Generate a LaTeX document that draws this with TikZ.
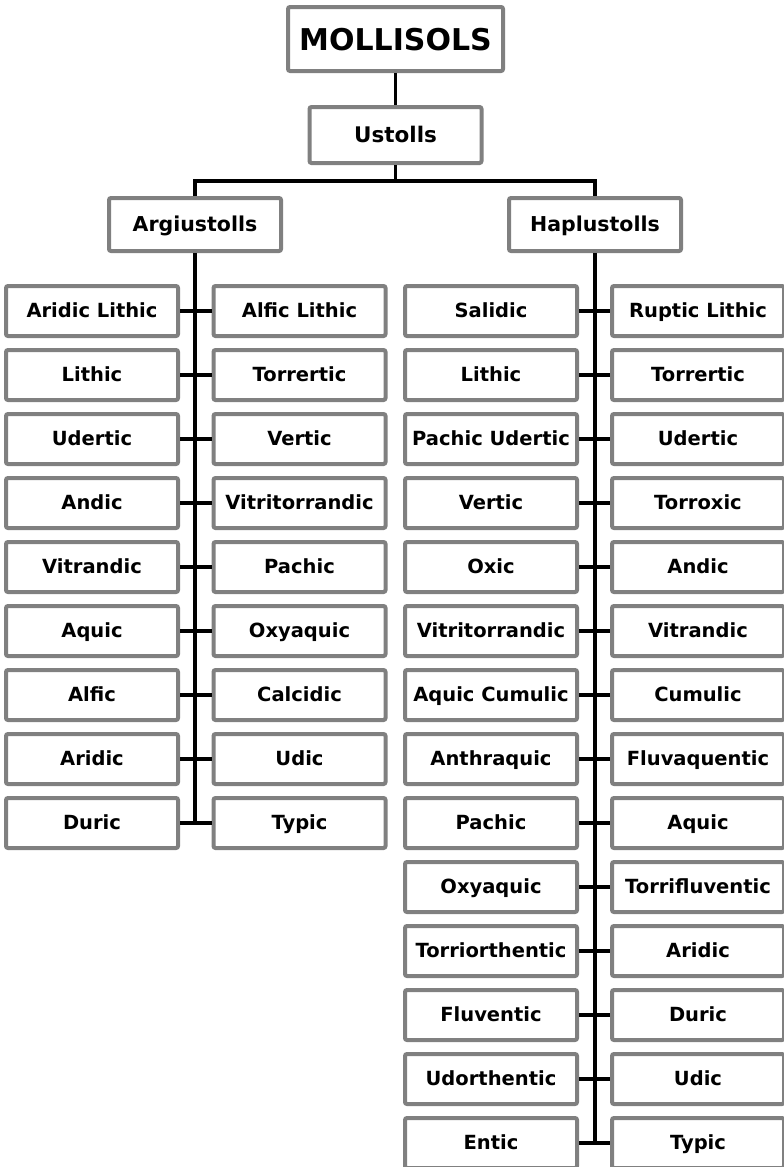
\documentclass[tikz,border=0pt]{standalone}
\usepackage{fontspec}
\setmainfont{DejaVu Sans}
\definecolor{boxgray}{HTML}{808080}
\begin{document}
\begin{tikzpicture}[x=1pt,y=-1pt,
  box/.style={draw=boxgray, line width=4pt, fill=white, rounded corners=2pt,
    minimum width=172pt, minimum height=50pt, inner sep=0pt,
    text height=14.5pt, text depth=1.5pt,
    font=\bfseries\fontsize{19.5}{23}\selectfont},
  conn/.style={line width=3.5pt, black}]
\useasboundingbox (0,0) rectangle (784,1167);
% top levels
\node[box, minimum width=215pt, minimum height=64pt, text height=22pt, text depth=0pt,
  font=\bfseries\fontsize{30}{36}\selectfont] (moll) at (395.5,39) {MOLLISOLS};
\node[box, minimum height=56pt, text height=15.8pt, text depth=1.5pt,
  font=\bfseries\fontsize{21.5}{26}\selectfont] (ust) at (395.5,135) {Ustolls};
\node[box, minimum height=53pt, text height=15pt, text depth=1.5pt,
  font=\bfseries\fontsize{20.5}{25}\selectfont] (arg) at (195,224.5) {Argiustolls};
\node[box, minimum height=53pt, text height=15pt, text depth=1.5pt,
  font=\bfseries\fontsize{20.5}{25}\selectfont] (hap) at (595,224.5) {Haplustolls};
\coordinate (bar) at (395.5,181);
\draw[conn] (moll.south) -- (ust.north);
\draw[conn] (ust.south) -- (bar);
\draw[conn] (arg.north) |- (bar) -| (hap.north);
% Argiustolls subgroups
\foreach \t [count=\i] in {Aridic Lithic,Lithic,Udertic,Andic,Vitrandic,Aquic,Alfic,Aridic,Duric}
  \node[box] (A\i) at (92,{247+64*\i}) {\t};
\foreach \t [count=\i] in {Alfic Lithic,Torrertic,Vertic,Vitritorrandic,Pachic,Oxyaquic,Calcidic,Udic,Typic}
  \node[box] (B\i) at (299.5,{247+64*\i}) {\t};
% Haplustolls subgroups
\foreach \t [count=\i] in {Salidic,Lithic,Pachic Udertic,Vertic,Oxic,Vitritorrandic,Aquic Cumulic,Anthraquic,Pachic,Oxyaquic,Torriorthentic,Fluventic,Udorthentic,Entic}
  \node[box] (C\i) at (491,{247+64*\i}) {\t};
\foreach \t [count=\i] in {Ruptic Lithic,Torrertic,Udertic,Torroxic,Andic,Vitrandic,Cumulic,Fluvaquentic,Aquic,Torrifluventic,Aridic,Duric,Udic,Typic}
  \node[box] (D\i) at (698,{247+64*\i}) {\t};
% connectors
\draw[conn] (arg.south) -- (arg.south |- A9.east);
\draw[conn] (hap.south) -- (hap.south |- C14.east);
\foreach \i in {1,...,9}
  \draw[conn] (A\i.east) -- (B\i.west);
\foreach \i in {1,...,14}
  \draw[conn] (C\i.east) -- (D\i.west);
\end{tikzpicture}
\end{document}
